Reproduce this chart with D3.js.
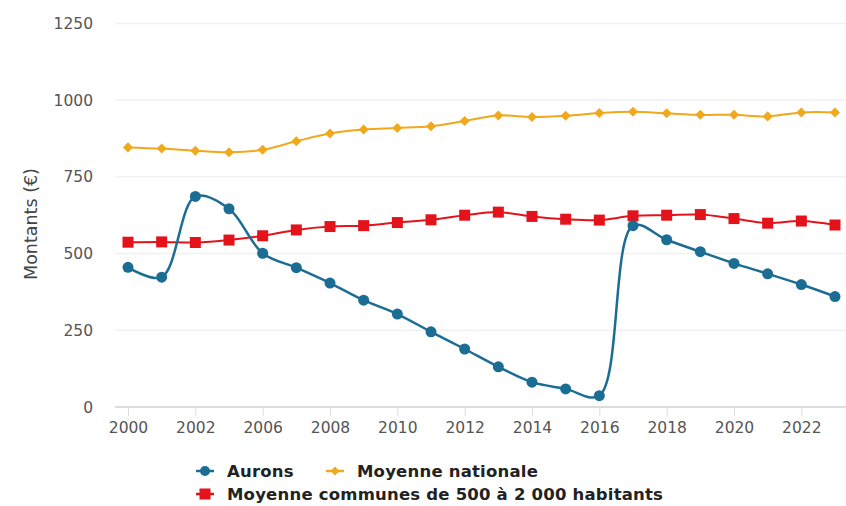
<!DOCTYPE html>
<html><head><meta charset="utf-8">
<script src="https://cdn.jsdelivr.net/npm/d3@7"></script>
<style>
body{margin:0;background:#fff;}
svg{display:block;font-family:"DejaVu Sans",sans-serif;}
</style></head>
<body>
<svg id="chart" width="846" height="506"></svg>
<script>
const categories = ["2000","2001","2002","2003","2006","2007","2008","2009","2010","2011","2012","2013","2014","2015","2016","2017","2018","2019","2020","2021","2022","2023"];
const aurons = [455,423,686,646,501,454,404,348,303,245,189,131,81,59,37,591,545,506,468,434,399,360];
const moyenneNationale = [846,842,835,830,838,866,891,904,909,915,932,950,945,949,958,962,957,952,952,947,960,960];
const moyenneStrate = [537,538,536,544,558,577,588,591,601,610,625,635,621,612,609,623,625,627,614,599,606,593];
const yTicks = [0,250,500,750,1000,1250];
const seriesNames = ["Aurons","Moyenne nationale","Moyenne communes de 500 à 2 000 habitants"];
const yTitle = "Montants (€)";

const svg = d3.select("#chart");
const x = d3.scalePoint().domain(categories).range([128,835]);
const y = d3.scaleLinear().domain([0,1250]).range([407,23.4]);

// gridlines
svg.append("g").selectAll("line").data(yTicks.filter(d=>d>0)).join("line")
  .attr("x1",115).attr("x2",846).attr("y1",d=>y(d)).attr("y2",d=>y(d))
  .attr("stroke","#f1f1f1").attr("stroke-width",1.5);

// y labels
svg.append("g").selectAll("text").data(yTicks).join("text")
  .attr("x",93).attr("y",d=>y(d)).attr("dy","0.36em").attr("text-anchor","end")
  .attr("fill","#555").attr("font-size",15.5).text(d=>d);

// x axis
const xAxis = d3.axisBottom(x).tickValues(categories.filter((d,i)=>i%2===0)).tickSize(9).tickPadding(6);
const gx = svg.append("g").attr("transform",`translate(0,${y(0)})`).call(xAxis);
gx.select(".domain").attr("d","M115,0H846").attr("stroke","#dcdcdc").attr("stroke-width",2);
gx.selectAll(".tick line").attr("stroke","#dcdcdc").attr("stroke-width",1);
gx.selectAll(".tick text").attr("fill","#555").attr("font-size",15.5).attr("font-family","'DejaVu Sans',sans-serif");

// y title
svg.append("text").attr("transform","translate(37,224) rotate(-90)").attr("text-anchor","middle")
  .attr("fill","#444").attr("font-size",17.5).text(yTitle);

const line = d3.line().x((d,i)=>x(categories[i])).y(d=>y(d)).curve(d3.curveCatmullRom.alpha(0.5));

const colors = ["#1b6d94","#f0a81c","#e3121b"];

// nationale
svg.append("path").attr("d",line(moyenneNationale)).attr("fill","none").attr("stroke",colors[1]).attr("stroke-width",2);
svg.append("g").selectAll("path").data(moyenneNationale).join("path")
  .attr("d",d3.symbol(d3.symbolDiamond2,64)())
  .attr("transform",(d,i)=>`translate(${x(categories[i])},${y(d)})`)
  .attr("fill",colors[1]);

// strate
svg.append("path").attr("d",line(moyenneStrate)).attr("fill","none").attr("stroke",colors[2]).attr("stroke-width",2);
svg.append("g").selectAll("rect").data(moyenneStrate).join("rect")
  .attr("x",(d,i)=>x(categories[i])-5.5).attr("y",d=>y(d)-5.5).attr("width",11).attr("height",11)
  .attr("fill",colors[2]);

// aurons
svg.append("path").attr("d",line(aurons)).attr("fill","none").attr("stroke",colors[0]).attr("stroke-width",2.5);
svg.append("g").selectAll("circle").data(aurons).join("circle")
  .attr("cx",(d,i)=>x(categories[i])).attr("cy",d=>y(d)).attr("r",5.5).attr("fill",colors[0]);

// legend
const leg = svg.append("g").attr("font-size",16.5).attr("font-weight","bold").attr("letter-spacing",0.2).attr("fill","#222");
const legItems = [
  {name:seriesNames[0],c:colors[0],x:205,y:471,shape:"circle"},
  {name:seriesNames[1],c:colors[1],x:335,y:471,shape:"diamond"},
  {name:seriesNames[2],c:colors[2],x:205,y:494,shape:"square"}
];
legItems.forEach(it=>{
  const g = leg.append("g").attr("transform",`translate(${it.x},${it.y})`);
  g.append("line").attr("x1",-9).attr("x2",9).attr("stroke",it.c).attr("stroke-width",2.5);
  if(it.shape==="circle") g.append("circle").attr("r",5).attr("fill",it.c);
  else if(it.shape==="diamond") g.append("path").attr("d",d3.symbol(d3.symbolDiamond2,50)()).attr("fill",it.c);
  else g.append("rect").attr("x",-5.5).attr("y",-5.5).attr("width",11).attr("height",11).attr("fill",it.c);
  g.append("text").attr("x",22).attr("dy","0.36em").attr("fill","#222").text(it.name);
});
</script>
</body></html>
